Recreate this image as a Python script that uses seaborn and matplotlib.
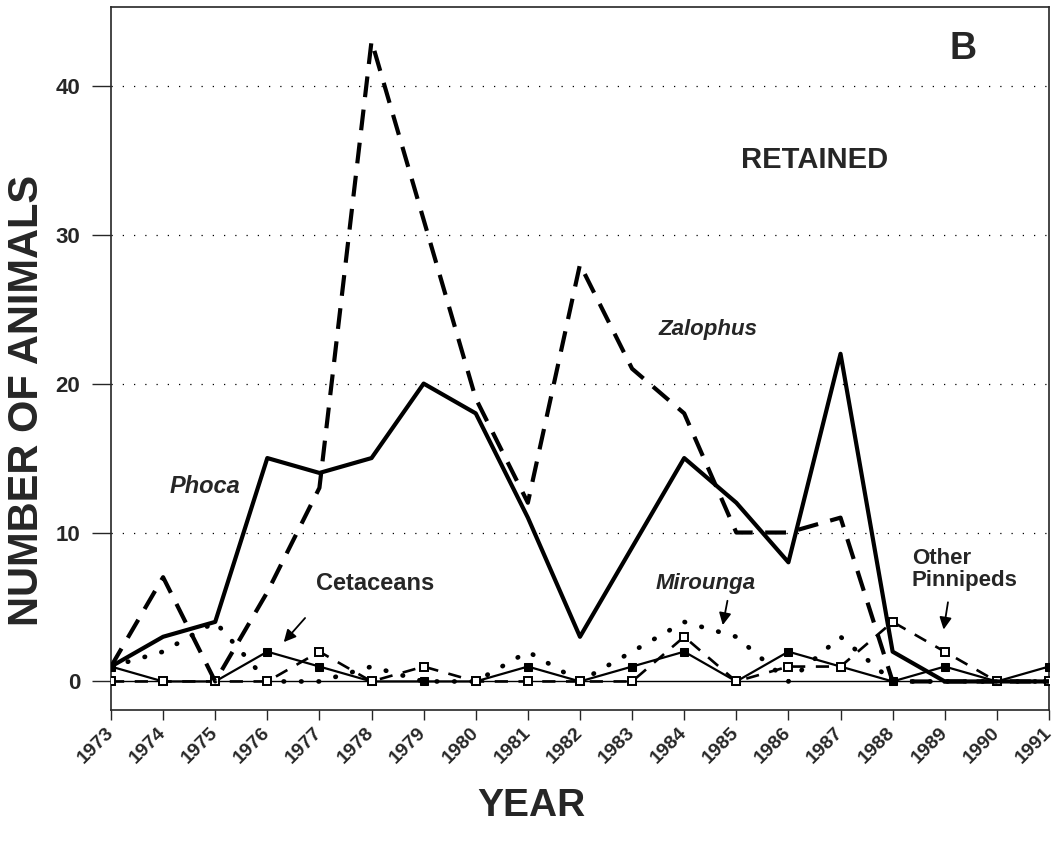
import matplotlib
matplotlib.use('Agg')
from matplotlib import pyplot as plt
from matplotlib.transforms import ScaledTranslation
import pandas as pd
import seaborn as sns

# values (animals retained per year)
years = list(range(1973, 1992))
phoca = [1, 3, 4, 15, 14, 15, 20, 18, 11, 3, 9, 15, 12, 8, 22, 2, 0, 0, 0]
zalophus = [1, 7, 0, 6, 13, 43, 31, 19, 12, 28, 21, 18, 10, 10, 11, 0, 0, 0, 0]
cetaceans = [1, 0, 0, 2, 1, 0, 0, 0, 1, 0, 1, 2, 0, 2, 1, 0, 1, 0, 1]
mirounga = [1, 2, 4, 0, 0, 1, 0, 0, 2, 0, 2, 4, 3, 0, 3, 0, 0, 0, 0]
other_pinnipeds = [0, 0, 0, 0, 2, 0, 1, 0, 0, 0, 0, 3, 0, 1, 1, 4, 2, 0, 0]
y_ticks = [0, 10, 20, 30, 40]

df = pd.DataFrame({'Year': years, 'Phoca': phoca, 'Zalophus': zalophus,
                   'Cetaceans': cetaceans, 'Mirounga': mirounga,
                   'Other Pinnipeds': other_pinnipeds})

sns.set_style('ticks')
plt.rcParams['font.family'] = ['Liberation Sans', 'DejaVu Sans']
plt.rcParams['font.weight'] = 'bold'

f, ax = plt.subplots(figsize=(10.57, 8.5), dpi=100)
f.subplots_adjust(left=0.105, right=0.9924, top=0.992, bottom=0.165)

# dotted grid + solid zero line
for yv in y_ticks[1:]:
    ax.axhline(yv, color='black', lw=0.9, linestyle=(0, (1, 8)), zorder=0)
ax.axhline(0, color='black', lw=1.0, zorder=1)

sns.lineplot(data=df, x='Year', y='Mirounga', ax=ax, color='black', lw=3.4,
             linestyle=(0, (0.1, 3.6)), dash_capstyle='round', zorder=2)
sns.lineplot(data=df, x='Year', y='Cetaceans', ax=ax, color='black', lw=1.6,
             marker='s', markersize=5.5, markerfacecolor='black',
             markeredgecolor='black', zorder=3)
sns.lineplot(data=df, x='Year', y='Other Pinnipeds', ax=ax, color='black', lw=1.9,
             linestyle=(0, (5, 4)), marker='s', markersize=5.5,
             markerfacecolor='white', markeredgecolor='black',
             markeredgewidth=1.4, zorder=4)
sns.lineplot(data=df, x='Year', y='Zalophus', ax=ax, color='black', lw=3.0,
             linestyle=(0, (5, 3)), zorder=5)
sns.lineplot(data=df, x='Year', y='Phoca', ax=ax, color='black', lw=3.0, zorder=6)

ax.set_xlim(1973, 1991)
ax.set_ylim(-1.9, 45.3)
ax.set_xticks(years)
ax.set_xticklabels(years, rotation=45, ha='right', va='center',
                   rotation_mode='anchor', fontsize=14, fontweight='bold')
shift = ScaledTranslation(4 / 72, 0, f.dpi_scale_trans)
for lab in ax.get_xticklabels():
    lab.set_transform(lab.get_transform() + shift)
ax.set_yticks(y_ticks)
ax.set_yticklabels(y_ticks, fontsize=16, fontweight='bold')
ax.tick_params(axis='y', length=14, width=1, pad=8)
ax.tick_params(axis='x', length=7, width=1, pad=8)
for s in ax.spines.values():
    s.set_linewidth(1.2)

ax.set_xlabel('YEAR', fontsize=28, fontweight='bold', va='top')
ax.xaxis.set_label_coords(0.448, -0.112)
ax.set_ylabel('NUMBER OF ANIMALS', fontsize=30, fontweight='bold')
ax.yaxis.set_label_coords(-0.068, 0.44)

# labels on the curves
ax.text(1974.8, 13.1, 'Phoca', fontsize=17, fontstyle='italic',
        fontweight='bold', ha='center', va='center')
ax.text(1984.46, 23.6, 'Zalophus', fontsize=16, fontstyle='italic',
        fontweight='bold', ha='center', va='center')
ax.text(1984.42, 6.6, 'Mirounga', fontsize=16, fontstyle='italic',
        fontweight='bold', ha='center', va='center')
ax.text(1978.07, 6.6, 'Cetaceans', fontsize=17, fontweight='bold',
        ha='center', va='center')
ax.text(1988.37, 7.5, 'Other\nPinnipeds', fontsize=16, fontweight='bold',
        ha='left', va='center', linespacing=1.05)
ax.text(1986.5, 35.0, 'RETAINED', fontsize=21, fontweight='bold',
        ha='center', va='center')
ax.text(1989.35, 42.5, 'B', fontsize=27, fontweight='bold',
        ha='center', va='center')

arrow = dict(arrowstyle='-|>', color='black', lw=1.3, mutation_scale=18)
ax.annotate('', xy=(1976.28, 2.5), xytext=(1976.76, 4.4), arrowprops=arrow)
ax.annotate('', xy=(1984.73, 3.6), xytext=(1984.84, 5.6), arrowprops=arrow)
ax.annotate('', xy=(1988.97, 3.3), xytext=(1989.07, 5.5), arrowprops=arrow)

plt.savefig('out.png', dpi=100)
